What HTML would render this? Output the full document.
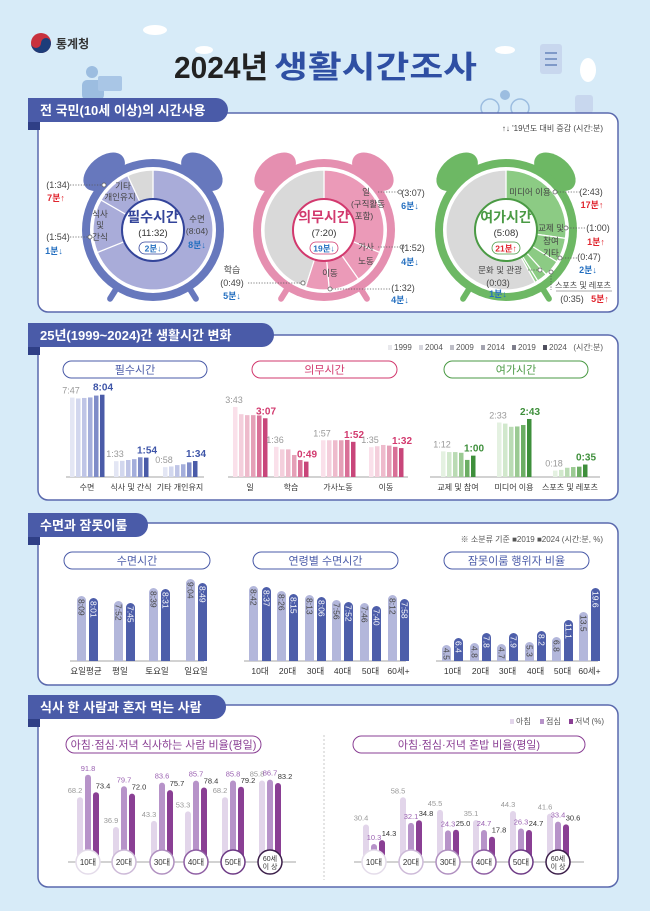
<!DOCTYPE html>
<html><head><meta charset="utf-8"><style>
html,body{margin:0;padding:0;background:#d7ebf8;}
svg{display:block;font-family:"Liberation Sans","Noto Sans CJK KR",sans-serif;}
</style></head><body>
<svg id="s" width="650" height="911" viewBox="0 0 650 911" xmlns="http://www.w3.org/2000/svg">
<rect width="650" height="911" fill="#d7ebf8"/>
<g fill="#bcd8ee">
<ellipse cx="155" cy="30" rx="12" ry="5" fill="#fff"/>
<ellipse cx="204" cy="50" rx="9" ry="4" fill="#fff"/>
<ellipse cx="505" cy="50" rx="10" ry="4" fill="#fff"/>
<circle cx="92" cy="72" r="6" fill="#9cbde0"/>
<rect x="82" y="80" width="22" height="20" rx="5" fill="#9cbde0"/>
<rect x="98" y="76" width="24" height="15" rx="2" fill="#a9c6e6"/>
<rect x="540" y="44" width="22" height="30" rx="3" fill="#c8d7ee"/>
<rect x="545" y="52" width="12" height="2" fill="#7f99c8"/><rect x="545" y="58" width="12" height="2" fill="#7f99c8"/><rect x="545" y="64" width="12" height="2" fill="#7f99c8"/>
<ellipse cx="588" cy="70" rx="8" ry="12" fill="#fff"/>
<circle cx="505" cy="95" r="5" fill="#9cbde0"/>
<circle cx="490" cy="108" r="9" fill="none" stroke="#9cbde0" stroke-width="1.5"/>
<circle cx="520" cy="108" r="9" fill="none" stroke="#9cbde0" stroke-width="1.5"/>
<rect x="575" y="95" width="18" height="18" rx="3" fill="#c8d7ee"/>
</g>
<circle cx="41" cy="43" r="10" fill="#c8313e"/>
<path d="M31 43 A10 10 0 0 0 51 43 A5 5 0 0 0 41 43 A5 5 0 0 1 31 43Z" fill="#1c3d7a"/>
<text x="56" y="48" font-size="12" font-weight="bold" fill="#333">통계청</text>
<text x="174" y="78" font-size="31" font-weight="bold" fill="#222" textLength="94" lengthAdjust="spacingAndGlyphs">2024년</text>
<text x="274" y="78" font-size="31" font-weight="bold" fill="#2f4fa3" textLength="203" lengthAdjust="spacingAndGlyphs">생활시간조사</text>
<g id="g"></g>
</svg>
<script>
const NS="http://www.w3.org/2000/svg",G=document.getElementById('g');
function el(t,a,txt){const e=document.createElementNS(NS,t);for(const k in a)e.setAttribute(k,a[k]);if(txt!=null)e.textContent=txt;G.appendChild(e);return e;}
function T(x,y,s,o){o=o||{};return el('text',Object.assign({x:x,y:y,'font-size':o.fs||9,fill:o.c||'#444','text-anchor':o.a||'middle','font-weight':o.b?'bold':'normal'},o.extra||{}),s);}
function panel(ty,tw,title,py,ph){
 el('rect',{x:38,y:py,width:580,height:ph,rx:10,fill:'#fff',stroke:'#5a69ad','stroke-width':1.5});
 el('rect',{x:28,y:ty+8,width:12,height:24,fill:'#2f3f86'});
 el('path',{d:`M28 ${ty} H${tw-12} A12 12 0 0 1 ${tw-12} ${ty+24} H28 Z`,fill:'#4a5ba8'});
 T(40,ty+17,title,{a:'start',c:'#fff',b:1,fs:13});
}
function pill(x1,x2,y,txt,col){
 el('rect',{x:x1,y:y,width:x2-x1,height:17,rx:8.5,fill:'#fff',stroke:col,'stroke-width':1});
 T((x1+x2)/2,y+12.5,txt,{c:col,fs:11});
}
panel(98,228,'전 국민(10세 이상)의 시간사용',113,199);
T(603,131,"↑↓ '19년도 대비 증감  (시간:분)",{a:'end',fs:8,c:'#444'});
function pt(cx,cy,r,a){a=(a-90)*Math.PI/180;return [cx+r*Math.cos(a),cy+r*Math.sin(a)];}
function seg(cx,cy,r1,r2,a0,a1,f){
 const L=(a1-a0)>180?1:0;const p1=pt(cx,cy,r2,a0),p2=pt(cx,cy,r2,a1),p3=pt(cx,cy,r1,a1),p4=pt(cx,cy,r1,a0);
 el('path',{d:`M${p1} A${r2} ${r2} 0 ${L} 1 ${p2} L${p3} A${r1} ${r1} 0 ${L} 0 ${p4}Z`,fill:f,stroke:'#fff','stroke-width':1.2});
}
function clock(cx,cy,ring,fill,dark,segs,title,total,chg,chgc){
 [-40,40].forEach(a=>{const p=pt(cx,cy,76,a);el('ellipse',{cx:p[0],cy:p[1],rx:24,ry:15,transform:`rotate(${a} ${p[0]} ${p[1]})`,fill:ring});});
 [-148,148].forEach(a=>{const p=pt(cx,cy,68,a),q=pt(cx,cy,81,a);el('line',{x1:p[0],y1:p[1],x2:q[0],y2:q[1],stroke:ring,'stroke-width':6,'stroke-linecap':'round'});});
 el('circle',{cx:cx,cy:cy,r:71,fill:ring});
 el('circle',{cx:cx,cy:cy,r:63,fill:'#fff'});
 segs.forEach(s=>seg(cx,cy,0,60,s[0],s[1],s[2]));
 el('circle',{cx:cx,cy:cy,r:31,fill:'#fff',stroke:dark,'stroke-width':2});
 T(cx,cy-8,title,{c:dark,b:1,fs:14});
 T(cx,cy+6,total,{c:'#333',fs:9.5});
 el('rect',{x:cx-14,y:cy+12,width:28,height:12,rx:6,fill:'#fff',stroke:dark,'stroke-width':0.8});
 T(cx,cy+21.5,chg,{c:chgc,fs:8.5,b:1});
}
const R='#e0262f',B='#2670c0',D='#444';
clock(153,230,'#6778bd','#a9acd9','#33449a',[[0,248,'#a9acd9'],[248,300,'#a9acd9'],[300,335,'#a9acd9'],[335,360,'#d9d9d9']],'필수시간','(11:32)','2분↓',B);
clock(324,230,'#e58fb0','#ec9fbb','#d2396e',[[0,112,'#eb9ab8'],[112,145,'#eb9ab8'],[145,175,'#eb9ab8'],[175,198,'#eb9ab8'],[198,360,'#d9d9d9']],'의무시간','(7:20)','19분↓',B);
clock(506,230,'#6db864','#8ccb84','#4a9a44',[[0,98,'#8ccb84'],[98,122,'#8ccb84'],[122,138,'#8ccb84'],[138,148,'#8ccb84'],[148,151,'#8ccb84'],[151,360,'#d9d9d9']],'여가시간','(5:08)','21분↑',R);
function dl(x1,y,x2){el('line',{x1:x1,y1:y,x2:x2,y2:y,stroke:'#555','stroke-width':0.8,'stroke-dasharray':'1.2 1.5'});el('circle',{cx:x2,cy:y,r:2,fill:'#fff',stroke:'#555','stroke-width':0.7});}
T(58,188,'(1:34)',{c:D});T(56,201,'7분↑',{c:R,b:1});dl(70,185,104);
T(123,189,'기타',{c:D,fs:8.5});T(120,200,'개인유지',{c:D,fs:8.5});
T(100,217,'식사',{c:D,fs:8.5});T(100,228,'및',{c:D,fs:8.5});T(100,240,'간식',{c:D,fs:8.5});
T(58,240,'(1:54)',{c:D});T(54,254,'1분↓',{c:B,b:1});dl(70,237,90);
T(197,222,'수면',{c:D,fs:8.5});T(197,234,'(8:04)',{c:D,fs:8.5});T(197,248,'8분↓',{c:B,b:1});
T(366,195,'일',{c:D,fs:8.5});T(368,207,'(구직활동',{c:D,fs:8.5});T(364,219,'포함)',{c:D,fs:8.5});dl(378,192,400);
T(413,196,'(3:07)',{c:D});T(410,209,'6분↓',{c:B,b:1});
T(366,250,'가사',{c:D,fs:8.5});T(366,264,'노동',{c:D,fs:8.5});dl(378,247,402);
T(413,251,'(1:52)',{c:D});T(410,265,'4분↓',{c:B,b:1});
T(330,276,'이동',{c:D,fs:8.5});dl(390,289,330);T(403,291,'(1:32)',{c:D});T(400,303,'4분↓',{c:B,b:1});
T(232,273,'학습',{c:D});T(232,286,'(0:49)',{c:D});T(232,299,'5분↓',{c:B,b:1});dl(248,283,303);
T(530,195,'미디어 이용',{c:D,fs:8.5});dl(580,192,555);T(591,195,'(2:43)',{c:D});T(592,208,'17분↑',{c:R,b:1});
T(551,231,'교제 및',{c:D,fs:8.5});T(551,244,'참여',{c:D,fs:8.5});dl(585,228,566);T(598,231,'(1:00)',{c:D});T(596,245,'1분↑',{c:R,b:1});
T(551,256,'기타',{c:D,fs:8.5});dl(577,258,560);T(589,260,'(0:47)',{c:D});T(588,273,'2분↓',{c:B,b:1});
T(500,273,'문화 및 관광',{c:D,fs:8.5});dl(528,270,540);T(498,286,'(0:03)',{c:D});T(498,297,'1분↓',{c:B,b:1});
el('line',{x1:551,y1:273,x2:551,y2:290,stroke:'#555','stroke-width':0.8,'stroke-dasharray':'1.2 1.5'});el('circle',{cx:551,cy:272,r:2,fill:'#fff',stroke:'#555','stroke-width':0.7});
T(583,288,'스포츠 및 레포츠',{c:D,fs:8});el('line',{x1:556,y1:291,x2:612,y2:291,stroke:'#555','stroke-width':0.6});
T(572,302,'(0:35)',{c:D});T(600,302,'5분↑',{c:R,b:1});
panel(323,274,'25년(1999~2024)간 생활시간 변화',335,165);
const yrs=['1999','2004','2009','2014','2019','2024'];
const legc=['#e8e8ec','#d5d5dc','#bdbdc6','#a4a4b0','#7e7e8c','#4f4f5e'];
let lx=388;yrs.forEach((y,i)=>{el('rect',{x:lx,y:345,width:4,height:5,fill:legc[i]});T(lx+6,350,y,{a:'start',fs:8,c:'#555'});lx+=31;});
T(603,350,'(시간:분)',{a:'end',fs:8,c:'#555'});
pill(63,207,361,'필수시간','#4a5ba8');pill(252,397,361,'의무시간','#d2396e');pill(444,588,361,'여가시간','#4a9a44');
const C1=['#e3e6f4','#d2d7ee','#bfc5e6','#a4aedb','#7f8cc8','#4a5ba8'],
C2=['#fae0ea','#f4cfdc','#eebbcc','#e5a0b7','#d97097','#c8467a'],
C3=['#e4f1e1','#d1e8cc','#badbb4','#9bca93','#6cae64','#3e8f3b'];
const base2=477;
el('line',{x1:66,y1:base2,x2:204,y2:base2,stroke:'#888','stroke-width':0.8});
el('line',{x1:228,y1:base2,x2:408,y2:base2,stroke:'#888','stroke-width':0.8});
el('line',{x1:430,y1:base2,x2:600,y2:base2,stroke:'#888','stroke-width':0.8});
function grp(c,vals,sc,cols,l0,l1,name,lc){
 vals.forEach((v,i)=>{const h=v*sc;el('rect',{x:c-17+i*6,y:base2-h,width:4.5,height:h,fill:cols[i]});});
 T(c-16,base2-vals[0]*sc-4,l0,{c:'#999',fs:9});
 T(c+16,base2-vals[5]*sc-4,l1,{c:lc,fs:10,b:1});
 T(c,490,name,{c:'#333',fs:8});
}
grp(87,[467,462,465,468,479,484],0.17,C1,'7:47','8:04','수면','#3e55a8');
grp(131,[93,95,100,105,116,114],0.17,C1,'1:33','1:54','식사 및 간식','#3e55a8');
grp(180,[58,62,70,75,86,94],0.17,C1,'0:58','1:34','기타 개인유지','#3e55a8');
grp(250,[223,200,197,197,196,187],0.314,C2,'3:43','3:07','일','#d2396e');
grp(291,[96,88,88,70,54,49],0.314,C2,'1:36','0:49','학습','#d2396e');
grp(338,[117,117,117,117,118,112],0.314,C2,'1:57','1:52','가사노동','#d2396e');
grp(386,[95,98,102,100,96,92],0.314,C2,'1:35','1:32','이동','#d2396e');
grp(458,[72,70,70,68,48,60],0.356,C3,'1:12','1:00','교제 및 참여','#3e8f3b');
grp(514,[153,150,141,142,146,163],0.356,C3,'2:33','2:43','미디어 이용','#3e8f3b');
grp(570,[18,20,26,28,29,35],0.356,C3,'0:18','0:35','스포츠 및 레포츠','#3e8f3b');
panel(513,148,'수면과 잠못이룸',523,162);
T(603,542,'※ 소분류 기준   ■2019  ■2024  (시간:분, %)',{a:'end',fs:8,c:'#555'});
pill(64,210,552,'수면시간','#4a5ba8');pill(253,398,552,'연령별 수면시간','#4a5ba8');pill(444,589,552,'잠못이룸 행위자 비율','#4a5ba8');
const b3=661;
[[70,204],[244,406],[436,598]].forEach(r=>el('line',{x1:r[0],y1:b3,x2:r[1],y2:b3,stroke:'#888','stroke-width':0.8}));
function vb(x,top,col,txt,tc,w){w=w||9;el('path',{d:`M${x} ${b3} V${top+w/2} A${w/2} ${w/2} 0 0 1 ${x+w} ${top+w/2} V${b3}Z`,fill:col});
 el('text',{x:x+w/2-3,y:top+3,'font-size':8.5,fill:tc,transform:`rotate(90 ${x+w/2-3} ${top+3})`},txt);}
function pair(x1,x2,t1,t2,s1,s2,lab,lx,w){vb(x1,t1,'#b3b7db',s1,'#444',w);vb(x2,t2,'#4d5eaa',s2,'#fff',w);T(lx,674,lab,{c:'#333',fs:8.5});}
pair(77,89,596,598,'8:09','8:01','요일평균',86);
pair(114,126,601,603,'7:52','7:45','평일',120);
pair(149,161,588,589,'8:39','8:31','토요일',157);
pair(186,198,579,583,'9:04','8:49','일요일',196);
[[249,262,586,587,'8:42','8:37','10대'],[277,289,591,594,'8:26','8:15','20대'],[305,317,595,597,'8:13','8:06','30대'],[332,344,600,602,'7:56','7:52','40대'],[360,372,603,606,'7:46','7:40','50대'],[388,400,595,599,'8:12','7:58','60세+']].forEach(d=>pair(d[0],d[1],d[2],d[3],d[4],d[5],d[6],(d[0]+d[1]+9)/2));
[[442,454,645,638,'4.5','6.4','10대'],[470,482,643,633,'4.8','7.8','20대'],[497,509,644,633,'4.7','7.9','30대'],[525,537,642,631,'5.3','8.2','40대'],[552,564,637,620,'6.8','11.1','50대'],[579,591,612,588,'13.5','19.6','60세+']].forEach(d=>pair(d[0],d[1],d[2],d[3],d[4],d[5],d[6],(d[0]+d[1]+9)/2));
panel(695,226,'식사 한 사람과 혼자 먹는 사람',705,182);
el('rect',{x:510,y:719,width:4,height:5,fill:'#e2d5ea'});T(516,724,'아침',{a:'start',fs:8,c:'#555'});
el('rect',{x:540,y:719,width:4,height:5,fill:'#b793c9'});T(546,724,'점심',{a:'start',fs:8,c:'#555'});
el('rect',{x:569,y:719,width:4,height:5,fill:'#8a3f94'});T(575,724,'저녁',{a:'start',fs:8,c:'#555'});
T(604,724,'(%)',{a:'end',fs:8,c:'#555'});
el('line',{x1:324,y1:735,x2:324,y2:880,stroke:'#bbb','stroke-width':0.8,'stroke-dasharray':'2 2'});
pill(66,261,736,'아침·점심·저녁 식사하는 사람 비율(평일)','#8a3f94');pill(353,585,736,'아침·점심·저녁 혼밥 비율(평일)','#8a3f94');
const b4=862;
el('line',{x1:68,y1:b4,x2:296,y2:b4,stroke:'#888','stroke-width':0.8});
el('line',{x1:354,y1:b4,x2:584,y2:b4,stroke:'#888','stroke-width':0.8});
const MC=['#e2d5ea','#b793c9','#8a3f94'],TC=['#999','#9b62b2','#333'];
const ages=['10대','20대','30대','40대','50대','60세'];const ring=['#e4dcea','#cdbad8','#b090c0','#8e5ea3','#6d3a85','#3c1f4a'];
function meal(cs,data,f){cs.forEach((c,g)=>{data[g].forEach((v,i)=>{const h=f(v);const x=c-11+i*8;
 el('path',{d:`M${x} ${b4} V${b4-h+3} A3 3 0 0 1 ${x+6} ${b4-h+3} V${b4}Z`,fill:MC[i]});
 T(x+3+(i==2?7:0)-(i==0?5:0),b4-h-4,v.toFixed(1),{c:TC[i],fs:7.5});});
 el('circle',{cx:c,cy:b4,r:12,fill:'#fff',stroke:ring[g],'stroke-width':1.5});
 if(g<5)T(c,b4+3,ages[g],{fs:8,c:'#333'});else{T(c,b4-1,'60세',{fs:7,c:'#333'});T(c,b4+7,'이 상',{fs:7,c:'#333'});}
});}
meal([88,124,162,196,233,270],[[68.2,91.8,73.4],[36.9,79.7,72.0],[43.3,83.6,75.7],[53.3,85.7,78.4],[68.2,85.8,79.2],[85.8,86.7,83.2]],v=>v*0.95);
meal([374,411,448,484,521,558],[[30.4,10.3,14.3],[58.5,32.1,34.8],[45.5,24.3,25.0],[35.1,24.7,17.8],[44.3,26.3,24.7],[41.6,33.4,30.6]],v=>8+v*0.97);
</script>
</body></html>
